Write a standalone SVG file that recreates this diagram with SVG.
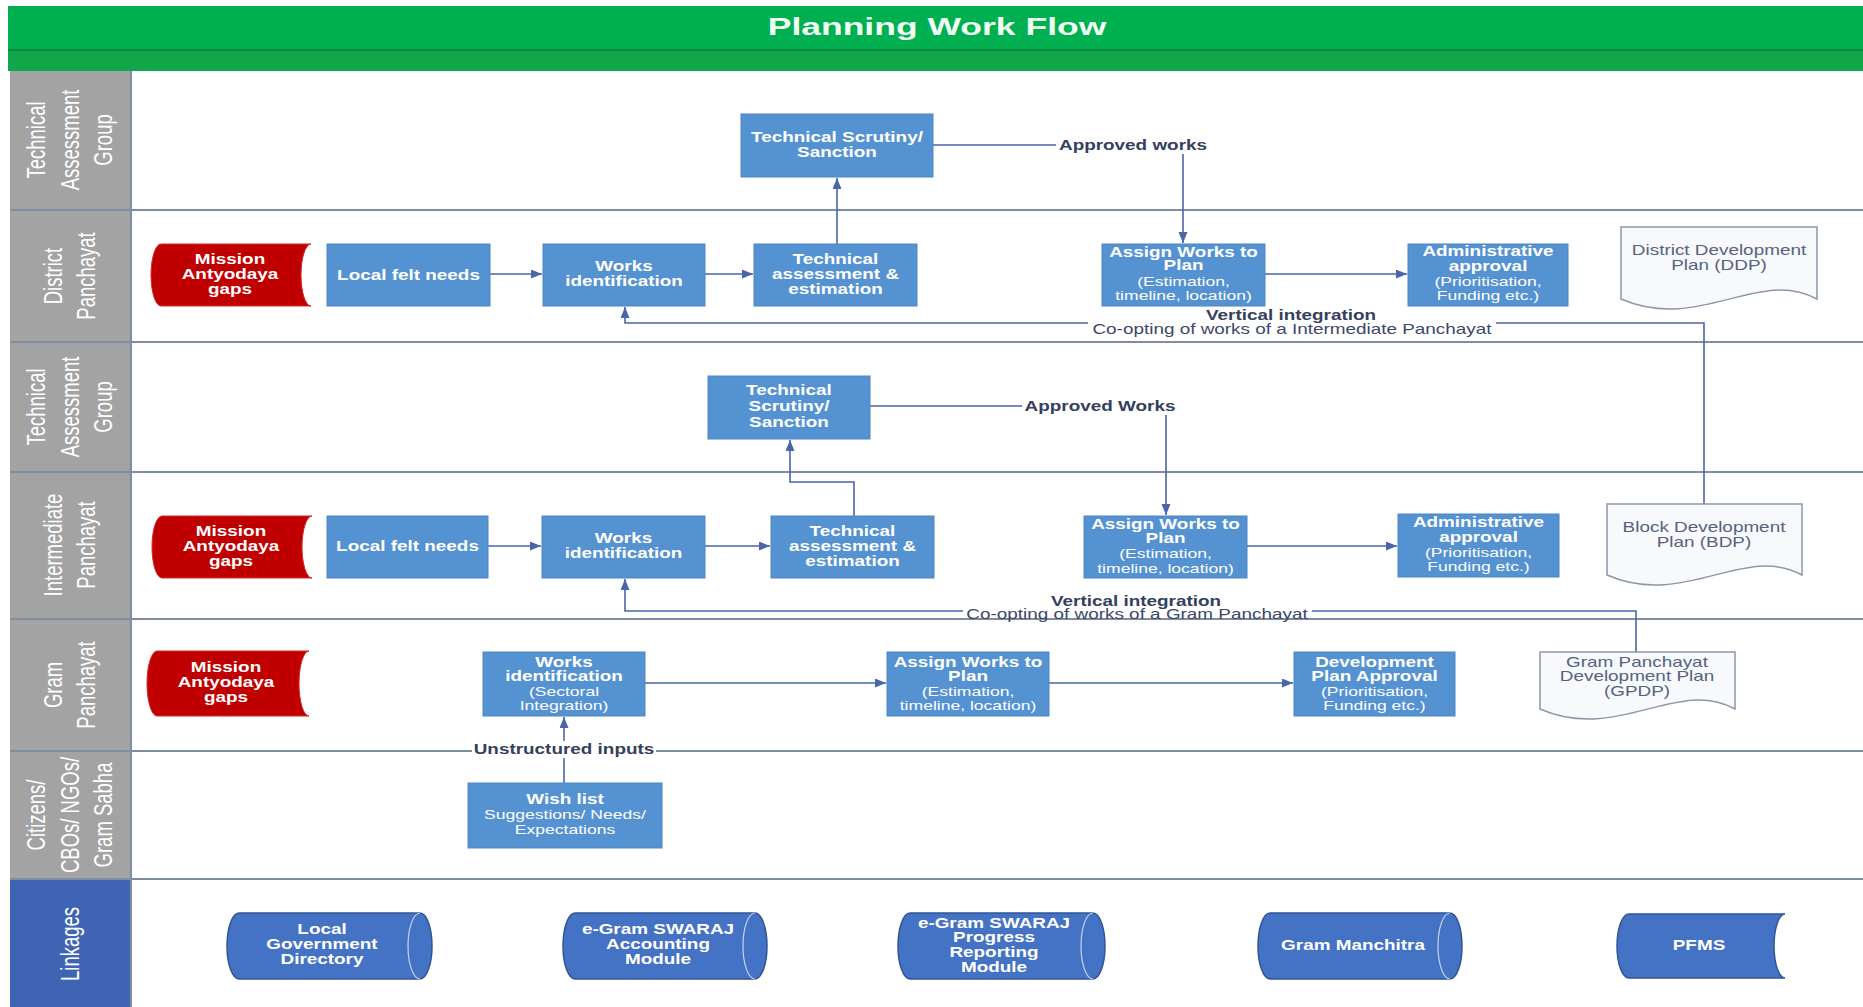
<svg xmlns="http://www.w3.org/2000/svg" width="1863" height="1007" viewBox="0 0 1863 1007">
<style>
.box{fill:#5592D2;stroke:#4C86C6;stroke-width:1}
.red{fill:#C00000;stroke:#D42A2A;stroke-width:1}
.cyl{fill:#4472C4;stroke:#2F5597;stroke-width:1.5}
.cylin{fill:none;stroke:#C9D5EE;stroke-width:1.2}
.doc{fill:#F7F9FC;stroke:#8C97A8;stroke-width:1.5}
.cell{fill:#A3A3A3}
.celllink{fill:#3E64B3}
.border{stroke:#7F8CA3;stroke-width:2}
.conn{fill:none;stroke:#4A66A8;stroke-width:1.6}
.bg{fill:#FFFFFF}
text{font-family:"Liberation Sans",Arial,sans-serif}
.t{font-size:14px;fill:#FFFFFF;text-anchor:middle}
.b{font-weight:bold}
.s{font-size:13px;font-weight:normal}
.lbl{font-size:14px;fill:#34405E;font-weight:bold;text-anchor:middle}
.note{font-size:14px;fill:#3B4868;text-anchor:middle}
.doct{font-size:14px;fill:#55627E;text-anchor:middle}
.lt{font-size:18.5px;fill:#FFFFFF;text-anchor:middle}
.title{font-size:24px;fill:#F0FFF4;font-weight:bold;text-anchor:middle}
</style>
<defs>
<marker id="arr" markerUnits="userSpaceOnUse" markerWidth="12" markerHeight="10" refX="11" refY="4.5" orient="auto">
<path d="M0,0 L11,4.5 L0,9 Z" fill="#4A66A8"/>
</marker>
</defs>
<rect x="0" y="0" width="1863" height="1007" fill="#FFFFFF"/>

<g id="header">
<rect x="8" y="6" width="1855" height="44" fill="#00AF50"/>
<rect x="8" y="50" width="1855" height="21" fill="#12A64B"/>
<line x1="8" y1="50" x2="1863" y2="50" stroke="#0E7A3E" stroke-width="1.5"/>
<text class="title" transform="translate(937 0) scale(1.48 1)" x="0" y="35">Planning Work Flow</text>
</g>

<g id="lanes">
<rect class="cell" x="10" y="71" width="121" height="139"/>
<rect class="cell" x="10" y="210" width="121" height="132"/>
<rect class="cell" x="10" y="342" width="121" height="130"/>
<rect class="cell" x="10" y="472" width="121" height="147"/>
<rect class="cell" x="10" y="619" width="121" height="132"/>
<rect class="cell" x="10" y="751" width="121" height="128"/>
<rect class="celllink" x="10" y="879" width="121" height="128"/>
<text class="lt" transform="translate(70 140) scale(1.35 1) rotate(-90)"><tspan x="0" y="-18.3">Technical</tspan><tspan x="0" y="6.5">Assessment</tspan><tspan x="0" y="31.3">Group</tspan></text>
<text class="lt" transform="translate(70 276) scale(1.35 1) rotate(-90)"><tspan x="0" y="-5.9">District</tspan><tspan x="0" y="18.9">Panchayat</tspan></text>
<text class="lt" transform="translate(70 407) scale(1.35 1) rotate(-90)"><tspan x="0" y="-18.3">Technical</tspan><tspan x="0" y="6.5">Assessment</tspan><tspan x="0" y="31.3">Group</tspan></text>
<text class="lt" transform="translate(70 545) scale(1.35 1) rotate(-90)"><tspan x="0" y="-5.9">Intermediate</tspan><tspan x="0" y="18.9">Panchayat</tspan></text>
<text class="lt" transform="translate(70 685) scale(1.35 1) rotate(-90)"><tspan x="0" y="-5.9">Gram</tspan><tspan x="0" y="18.9">Panchayat</tspan></text>
<text class="lt" transform="translate(70 815) scale(1.35 1) rotate(-90)"><tspan x="0" y="-18.3">Citizens/</tspan><tspan x="0" y="6.5">CBOs/ NGOs/</tspan><tspan x="0" y="31.3">Gram Sabha</tspan></text>
<text class="lt" transform="translate(70 944) scale(1.35 1) rotate(-90)"><tspan x="0" y="6.5">Linkages</tspan></text>
<line class="border" x1="10" y1="210" x2="1863" y2="210"/>
<line class="border" x1="10" y1="342" x2="1863" y2="342"/>
<line class="border" x1="10" y1="472" x2="1863" y2="472"/>
<line class="border" x1="10" y1="619" x2="1863" y2="619"/>
<line class="border" x1="10" y1="751" x2="1863" y2="751"/>
<line class="border" x1="10" y1="879" x2="1863" y2="879"/>
<line class="border" x1="131" y1="71" x2="131" y2="1007"/>
</g>

<g id="connectors">
<path class="conn" d="M490,274 H542" marker-end="url(#arr)"/>
<path class="conn" d="M705,274 H753" marker-end="url(#arr)"/>
<path class="conn" d="M837,244 V178" marker-end="url(#arr)"/>
<path class="conn" d="M933,145 H1183 V243" marker-end="url(#arr)"/>
<path class="conn" d="M1265,274 H1407" marker-end="url(#arr)"/>
<path class="conn" d="M1704,505 V323 H625 V307" marker-end="url(#arr)"/>
<path class="conn" d="M854,516 V482 H790 V440" marker-end="url(#arr)"/>
<path class="conn" d="M870,406 H1166 V515" marker-end="url(#arr)"/>
<path class="conn" d="M488,546 H541" marker-end="url(#arr)"/>
<path class="conn" d="M705,546 H770" marker-end="url(#arr)"/>
<path class="conn" d="M1247,546 H1397" marker-end="url(#arr)"/>
<path class="conn" d="M1636,652 V611 H625 V579" marker-end="url(#arr)"/>
<path class="conn" d="M645,683 H886" marker-end="url(#arr)"/>
<path class="conn" d="M1049,683 H1293" marker-end="url(#arr)"/>
<path class="conn" d="M564,783 V717" marker-end="url(#arr)"/>

<rect class="bg" x="1056" y="136" width="154" height="18"/>
<text class="lbl" transform="translate(1133 0) scale(1.35 1)" x="0" y="150">Approved works</text>
<rect class="bg" x="1088" y="318" width="408" height="18"/>
<text class="lbl" transform="translate(1291 0) scale(1.35 1)" x="0" y="320">Vertical integration</text>
<text class="note" transform="translate(1292 0) scale(1.35 1)" x="0" y="334">Co-opting of works of a Intermediate Panchayat</text>
<rect class="bg" x="1022" y="397" width="157" height="18"/>
<text class="lbl" transform="translate(1100 0) scale(1.35 1)" x="0" y="411">Approved Works</text>
<rect class="bg" x="963" y="606" width="349" height="12"/>
<text class="lbl" transform="translate(1136 0) scale(1.35 1)" x="0" y="606">Vertical integration</text>
<text class="note" transform="translate(1137 0) scale(1.35 1)" x="0" y="619">Co-opting of works of a Gram Panchayat</text>
<rect class="bg" x="472" y="741" width="184" height="17"/>
<text class="lbl" transform="translate(564 0) scale(1.35 1)" x="0" y="754">Unstructured inputs</text>
</g>

<g id="dp-mission">
<path class="red" d="M161,244 H311 A10,31 0 0 0 311,306 H161 A10,31 0 0 1 161,244 Z"/>
<text class="t b" transform="translate(230 0) scale(1.35 1)"><tspan x="0" y="264">Mission</tspan><tspan x="0" y="279">Antyodaya</tspan><tspan x="0" y="294">gaps</tspan></text>
</g>
<g id="dp-local">
<rect class="box" x="327" y="244" width="163" height="62"/>
<text class="t b" transform="translate(408.5 0) scale(1.35 1)" x="0" y="280">Local felt needs</text>
</g>
<g id="dp-works">
<rect class="box" x="543" y="244" width="162" height="62"/>
<text class="t b" transform="translate(624 0) scale(1.35 1)"><tspan x="0" y="271">Works</tspan><tspan x="0" y="286">identification</tspan></text>
</g>
<g id="dp-tech">
<rect class="box" x="754" y="244" width="163" height="62"/>
<text class="t b" transform="translate(835.5 0) scale(1.35 1)"><tspan x="0" y="264">Technical</tspan><tspan x="0" y="279">assessment &amp;</tspan><tspan x="0" y="294">estimation</tspan></text>
</g>
<g id="tag-scrutiny">
<rect class="box" x="741" y="114" width="192" height="63"/>
<text class="t b" transform="translate(837 0) scale(1.35 1)"><tspan x="0" y="142">Technical Scrutiny/</tspan><tspan x="0" y="157">Sanction</tspan></text>
</g>
<g id="dp-assign">
<rect class="box" x="1102" y="244" width="163" height="62"/>
<text class="t b" transform="translate(1183.5 0) scale(1.35 1)"><tspan x="0" y="257">Assign Works to</tspan><tspan x="0" y="270">Plan</tspan><tspan class="s" x="0" y="286">(Estimation,</tspan><tspan class="s" x="0" y="300">timeline, location)</tspan></text>
</g>
<g id="dp-admin">
<rect class="box" x="1408" y="244" width="160" height="62"/>
<text class="t b" transform="translate(1488 0) scale(1.35 1)"><tspan x="0" y="256">Administrative</tspan><tspan x="0" y="271">approval</tspan><tspan class="s" x="0" y="286">(Prioritisation,</tspan><tspan class="s" x="0" y="300">Funding etc.)</tspan></text>
</g>
<g id="ddp">
<path class="doc" d="M1621,227 H1817 V299 C1758,267 1700,333 1621,299 Z"/>
<text class="doct" transform="translate(1719 0) scale(1.35 1)"><tspan x="0" y="255">District Development</tspan><tspan x="0" y="270">Plan (DDP)</tspan></text>
</g>

<g id="tag2-scrutiny">
<rect class="box" x="708" y="376" width="162" height="63"/>
<text class="t b" transform="translate(789 0) scale(1.35 1)"><tspan x="0" y="395">Technical</tspan><tspan x="0" y="411">Scrutiny/</tspan><tspan x="0" y="427">Sanction</tspan></text>
</g>

<g id="ip-mission">
<path class="red" d="M162,516 H312 A10,31 0 0 0 312,578 H162 A10,31 0 0 1 162,516 Z"/>
<text class="t b" transform="translate(231 0) scale(1.35 1)"><tspan x="0" y="536">Mission</tspan><tspan x="0" y="551">Antyodaya</tspan><tspan x="0" y="566">gaps</tspan></text>
</g>
<g id="ip-local">
<rect class="box" x="327" y="516" width="161" height="62"/>
<text class="t b" transform="translate(407.5 0) scale(1.35 1)" x="0" y="551">Local felt needs</text>
</g>
<g id="ip-works">
<rect class="box" x="542" y="516" width="163" height="62"/>
<text class="t b" transform="translate(623.5 0) scale(1.35 1)"><tspan x="0" y="543">Works</tspan><tspan x="0" y="558">identification</tspan></text>
</g>
<g id="ip-tech">
<rect class="box" x="771" y="516" width="163" height="62"/>
<text class="t b" transform="translate(852.5 0) scale(1.35 1)"><tspan x="0" y="536">Technical</tspan><tspan x="0" y="551">assessment &amp;</tspan><tspan x="0" y="566">estimation</tspan></text>
</g>
<g id="ip-assign">
<rect class="box" x="1084" y="516" width="163" height="62"/>
<text class="t b" transform="translate(1165.5 0) scale(1.35 1)"><tspan x="0" y="529">Assign Works to</tspan><tspan x="0" y="543">Plan</tspan><tspan class="s" x="0" y="558">(Estimation,</tspan><tspan class="s" x="0" y="573">timeline, location)</tspan></text>
</g>
<g id="ip-admin">
<rect class="box" x="1398" y="514" width="161" height="63"/>
<text class="t b" transform="translate(1478.5 0) scale(1.35 1)"><tspan x="0" y="527">Administrative</tspan><tspan x="0" y="542">approval</tspan><tspan class="s" x="0" y="557">(Prioritisation,</tspan><tspan class="s" x="0" y="571">Funding etc.)</tspan></text>
</g>
<g id="bdp">
<path class="doc" d="M1607,504 H1802 V575 C1744,543 1685,609 1607,575 Z"/>
<text class="doct" transform="translate(1704 0) scale(1.35 1)"><tspan x="0" y="532">Block Development</tspan><tspan x="0" y="547">Plan (BDP)</tspan></text>
</g>

<g id="gp-mission">
<path class="red" d="M157,651 H309 A10,32.5 0 0 0 309,716 H157 A10,32.5 0 0 1 157,651 Z"/>
<text class="t b" transform="translate(226 0) scale(1.35 1)"><tspan x="0" y="672">Mission</tspan><tspan x="0" y="687">Antyodaya</tspan><tspan x="0" y="702">gaps</tspan></text>
</g>
<g id="gp-works">
<rect class="box" x="483" y="652" width="162" height="64"/>
<text class="t b" transform="translate(564 0) scale(1.35 1)"><tspan x="0" y="667">Works</tspan><tspan x="0" y="681">identification</tspan><tspan class="s" x="0" y="696">(Sectoral</tspan><tspan class="s" x="0" y="710">Integration)</tspan></text>
</g>
<g id="gp-assign">
<rect class="box" x="887" y="652" width="162" height="64"/>
<text class="t b" transform="translate(968 0) scale(1.35 1)"><tspan x="0" y="667">Assign Works to</tspan><tspan x="0" y="681">Plan</tspan><tspan class="s" x="0" y="696">(Estimation,</tspan><tspan class="s" x="0" y="710">timeline, location)</tspan></text>
</g>
<g id="gp-devplan">
<rect class="box" x="1294" y="652" width="161" height="64"/>
<text class="t b" transform="translate(1374.5 0) scale(1.35 1)"><tspan x="0" y="667">Development</tspan><tspan x="0" y="681">Plan  Approval</tspan><tspan class="s" x="0" y="696">(Prioritisation,</tspan><tspan class="s" x="0" y="710">Funding etc.)</tspan></text>
</g>
<g id="gpdp">
<path class="doc" d="M1540,652 H1735 V709 C1677,677 1618,743 1540,709 Z"/>
<text class="doct" transform="translate(1637 0) scale(1.35 1)"><tspan x="0" y="667">Gram Panchayat</tspan><tspan x="0" y="681">Development Plan</tspan><tspan x="0" y="696">(GPDP)</tspan></text>
</g>

<g id="wishlist">
<rect class="box" x="468" y="783" width="194" height="65"/>
<text class="t b" transform="translate(565 0) scale(1.35 1)"><tspan x="0" y="804">Wish list</tspan><tspan class="s" x="0" y="819">Suggestions/ Needs/</tspan><tspan class="s" x="0" y="834">Expectations</tspan></text>
</g>

<g id="lk-lgd">
<path class="cyl" d="M239,913 H420 A12,33 0 0 1 420,979 H239 A12,33 0 0 1 239,913 Z"/>
<path class="cylin" d="M420,913 A12,33 0 0 0 420,979"/>
<text class="t b" transform="translate(322 0) scale(1.35 1)"><tspan x="0" y="934">Local</tspan><tspan x="0" y="949">Government</tspan><tspan x="0" y="964">Directory</tspan></text>
</g>
<g id="lk-acct">
<path class="cyl" d="M575,913 H755 A12,33 0 0 1 755,979 H575 A12,33 0 0 1 575,913 Z"/>
<path class="cylin" d="M755,913 A12,33 0 0 0 755,979"/>
<text class="t b" transform="translate(658 0) scale(1.35 1)"><tspan x="0" y="934">e-Gram SWARAJ</tspan><tspan x="0" y="949">Accounting</tspan><tspan x="0" y="964">Module</tspan></text>
</g>
<g id="lk-progress">
<path class="cyl" d="M910,913 H1093 A12,33 0 0 1 1093,979 H910 A12,33 0 0 1 910,913 Z"/>
<path class="cylin" d="M1093,913 A12,33 0 0 0 1093,979"/>
<text class="t b" transform="translate(994 0) scale(1.35 1)"><tspan x="0" y="928">e-Gram SWARAJ</tspan><tspan x="0" y="942">Progress</tspan><tspan x="0" y="957">Reporting</tspan><tspan x="0" y="972">Module</tspan></text>
</g>
<g id="lk-manchitra">
<path class="cyl" d="M1270,913 H1450 A12,33 0 0 1 1450,979 H1270 A12,33 0 0 1 1270,913 Z"/>
<path class="cylin" d="M1450,913 A12,33 0 0 0 1450,979"/>
<text class="t b" transform="translate(1353 0) scale(1.35 1)" x="0" y="950">Gram Manchitra</text>
</g>
<g id="lk-pfms">
<path class="cyl" d="M1629,914 H1785 A11,32 0 0 0 1785,978 H1629 A12,32 0 0 1 1629,914 Z"/>
<text class="t b" transform="translate(1699 0) scale(1.35 1)" x="0" y="950">PFMS</text>
</g>
</svg>
